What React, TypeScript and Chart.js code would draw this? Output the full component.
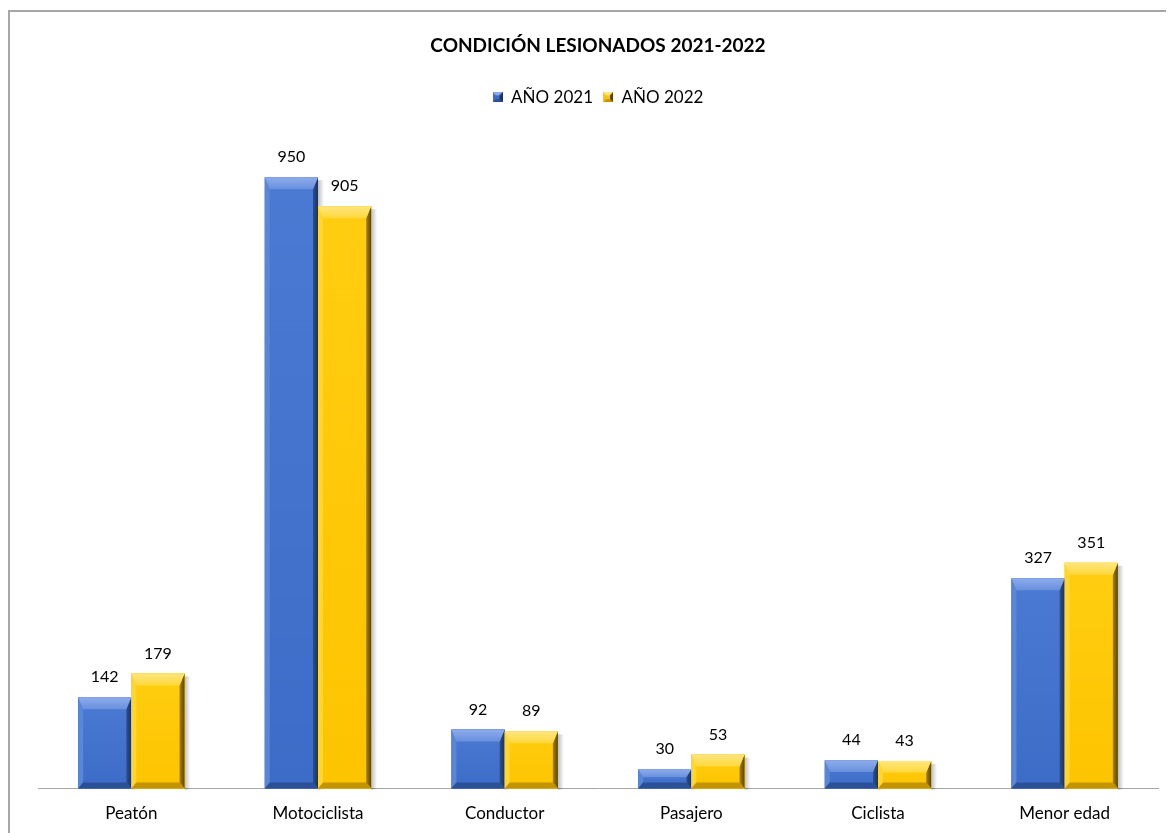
import React, { useEffect, useRef } from "react";
import { Chart, registerables } from "chart.js";

Chart.register(...registerables);

const categories = ["Peatón", "Motociclista", "Conductor", "Pasajero", "Ciclista", "Menor edad"];
const values2021 = [142, 950, 92, 30, 44, 327];
const values2022 = [179, 905, 89, 53, 43, 351];
const seriesNames = ["AÑO 2021", "AÑO 2022"];
const chartTitle = "CONDICIÓN LESIONADOS 2021-2022";

const FONT = "Lato, 'Open Sans', sans-serif";

type Pal = {
  face: string; faceTop: string; left: string; topA: string; topB: string;
  rightA: string; rightB: string; bottom: string;
};
const palettes: Pal[] = [
  {
    face: "#3d6cc8", faceTop: "#4a7ad2", left: "#5a86d6", topA: "#8eaceb", topB: "#6890de",
    rightA: "#2d4f90", rightB: "#1a3266", bottom: "#2c5095",
  },
  {
    face: "#fdc400", faceTop: "#ffcd10", left: "#ffd531", topA: "#ffe680", topB: "#ffd83c",
    rightA: "#a88200", rightB: "#5a4400", bottom: "#c49400",
  },
];

function bevel(ctx: CanvasRenderingContext2D, l: number, t: number, r: number, b: number, p: Pal) {
  const w = r - l;
  const h = b - t;
  if (w <= 0 || h <= 0) return;
  const bt = Math.min(12, h / 2.4);
  const bs = Math.min(5, w / 3);
  const bb = Math.min(6, h / 3);
  const gf = ctx.createLinearGradient(0, t, 0, b);
  gf.addColorStop(0, p.faceTop);
  gf.addColorStop(1, p.face);
  ctx.fillStyle = gf;
  ctx.fillRect(l, t, w, h);
  // left bevel
  ctx.beginPath();
  ctx.moveTo(l, t);
  ctx.lineTo(l + bs, t + bt);
  ctx.lineTo(l + bs, b - bb);
  ctx.lineTo(l, b);
  ctx.closePath();
  ctx.fillStyle = p.left;
  ctx.fill();
  // right bevel
  ctx.beginPath();
  ctx.moveTo(r, t);
  ctx.lineTo(r - bs, t + bt);
  ctx.lineTo(r - bs, b - bb);
  ctx.lineTo(r, b);
  ctx.closePath();
  const gr = ctx.createLinearGradient(r - bs, 0, r, 0);
  gr.addColorStop(0, p.rightA);
  gr.addColorStop(1, p.rightB);
  ctx.fillStyle = gr;
  ctx.fill();
  // bottom bevel
  ctx.beginPath();
  ctx.moveTo(l, b);
  ctx.lineTo(l + bs, b - bb);
  ctx.lineTo(r - bs, b - bb);
  ctx.lineTo(r, b);
  ctx.closePath();
  ctx.fillStyle = p.bottom;
  ctx.fill();
  // top bevel
  ctx.beginPath();
  ctx.moveTo(l, t);
  ctx.lineTo(r, t);
  ctx.lineTo(r - bs, t + bt);
  ctx.lineTo(l + bs, t + bt);
  ctx.closePath();
  const gt = ctx.createLinearGradient(0, t, 0, t + bt);
  gt.addColorStop(0, p.topA);
  gt.addColorStop(1, p.topB);
  ctx.fillStyle = gt;
  ctx.fill();
}

const bevelPlugin = {
  id: "bevelBars",
  beforeDatasetsDraw(chart: any) {
    const ctx = chart.ctx as CanvasRenderingContext2D;
    ctx.save();
    chart.data.datasets.forEach((_: any, di: number) => {
      const meta = chart.getDatasetMeta(di);
      meta.data.forEach((el: any) => {
        const r = el.x + el.width / 2;
        const g = ctx.createLinearGradient(r, 0, r + 6, 0);
        g.addColorStop(0, "rgba(0,0,0,0.25)");
        g.addColorStop(1, "rgba(0,0,0,0)");
        ctx.fillStyle = g;
        ctx.fillRect(r, el.y + 3, 6, el.base - el.y - 2);
      });
    });
    ctx.restore();
  },
  afterDatasetsDraw(chart: any) {
    const ctx = chart.ctx as CanvasRenderingContext2D;
    ctx.save();
    chart.data.datasets.forEach((ds: any, di: number) => {
      const meta = chart.getDatasetMeta(di);
      meta.data.forEach((el: any, i: number) => {
        const l = el.x - el.width / 2;
        const r = el.x + el.width / 2;
        bevel(ctx, l, el.y, r, el.base, palettes[di]);
        ctx.fillStyle = "#000";
        ctx.font = `16px ${FONT}`;
        ctx.textAlign = "center";
        ctx.textBaseline = "bottom";
        ctx.fillText(String(ds.data[i]), el.x, el.y - 12);
      });
    });
    ctx.restore();
  },
};

function legendIcon(p: Pal): HTMLCanvasElement {
  const c = document.createElement("canvas");
  c.width = 10;
  c.height = 10;
  const ctx = c.getContext("2d")!;
  ctx.fillStyle = p.face;
  ctx.fillRect(0, 0, 10, 10);
  ctx.fillStyle = p.topA;
  ctx.beginPath();
  ctx.moveTo(0, 0);
  ctx.lineTo(10, 0);
  ctx.lineTo(7, 3);
  ctx.lineTo(3, 3);
  ctx.fill();
  ctx.fillStyle = p.rightB;
  ctx.beginPath();
  ctx.moveTo(10, 0);
  ctx.lineTo(10, 10);
  ctx.lineTo(7, 7);
  ctx.lineTo(7, 3);
  ctx.fill();
  ctx.fillStyle = p.bottom;
  ctx.beginPath();
  ctx.moveTo(0, 10);
  ctx.lineTo(10, 10);
  ctx.lineTo(7, 7);
  ctx.lineTo(3, 7);
  ctx.fill();
  return c;
}

export default function App() {
  const ref = useRef<HTMLCanvasElement>(null);
  useEffect(() => {
    if (!ref.current) return;
    const icons = palettes.map(legendIcon);
    const chart = new Chart(ref.current, {
      type: "bar",
      data: {
        labels: categories,
        datasets: [
          { label: seriesNames[0], data: values2021, backgroundColor: palettes[0].face, pointStyle: icons[0] as any },
          { label: seriesNames[1], data: values2022, backgroundColor: palettes[1].face, pointStyle: icons[1] as any },
        ],
      },
      options: {
        animation: false,
        responsive: false,
        maintainAspectRatio: false,
        layout: { padding: { left: 28, right: 16, top: 0, bottom: -6 } },
        datasets: { bar: { categoryPercentage: 0.57, barPercentage: 1.0 } },
        plugins: {
          title: {
            display: true,
            text: chartTitle,
            color: "#000",
            font: { family: FONT, size: 19, weight: "bold" },
            padding: { top: 22, bottom: 22 },
          },
          subtitle: {
            display: true,
            text: " ",
            weight: 500,
            font: { size: 1 },
            padding: { top: 28, bottom: 0 },
          } as any,
          legend: {
            display: true,
            labels: {
              usePointStyle: true,
              color: "#000",
              font: { family: FONT, size: 17 },
              boxWidth: 10,
              boxHeight: 10,
              padding: 10,
            },
          },
          tooltip: { enabled: false },
        },
        scales: {
          x: {
            grid: { display: false, drawTicks: false },
            border: { display: true, color: "#a6a6a6", width: 1 },
            ticks: { color: "#000", font: { family: FONT, size: 17 }, padding: 15 },
          },
          y: { display: false, min: 0, max: 1000 },
        },
      },
      plugins: [bevelPlugin],
    });
    return () => chart.destroy();
  }, []);
  return (
    <div
      style={{
        marginTop: 2,
        width: 1164,
        height: 821,
        borderTop: "2px solid #a6a6a6",
        borderLeft: "2px solid #a6a6a6",
        position: "relative",
        background: "#fff",
      }}
    >
      <canvas ref={ref} width={1164} height={821} style={{ display: "block" }} />
    </div>
  );
}
